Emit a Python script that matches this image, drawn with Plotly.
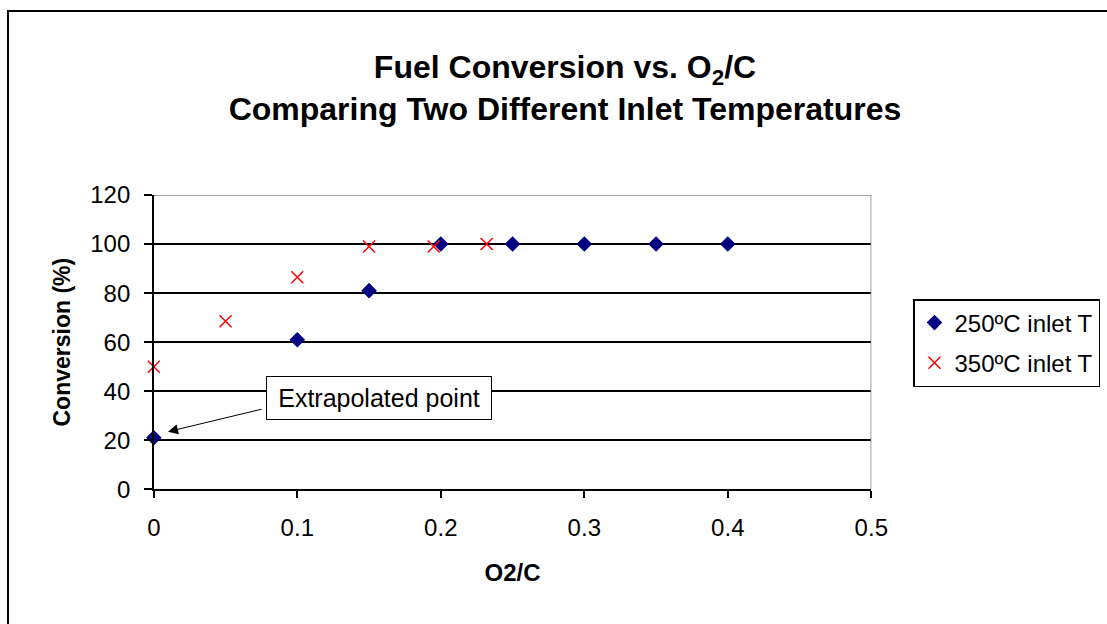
import plotly.graph_objects as go

# O2/C ratio and fuel conversion (%) for each inlet temperature
o2c_250 = [0.0, 0.1, 0.15, 0.2, 0.25, 0.3, 0.35, 0.4]
conv_250 = [21, 61, 81, 100, 100, 100, 100, 100]

o2c_350 = [0.0, 0.05, 0.1, 0.15, 0.195, 0.232]
conv_350 = [50, 68.5, 86.5, 99, 99, 100]

series_names = ["250ºC inlet T", "350ºC inlet T"]
x_ticks = [0, 0.1, 0.2, 0.3, 0.4, 0.5]
y_ticks = [0, 20, 40, 60, 80, 100, 120]

W, H = 1107, 624
FONT = "Liberation Sans, Arial, sans-serif"

# plot-area edges in pixels
L, R, T, B = 153.8, 871.3, 195.0, 489.3

fig = go.Figure()
fig.add_trace(go.Scatter(
    x=o2c_250, y=conv_250, mode="markers", name=series_names[0],
    legendgroup="a",
    marker=dict(symbol="diamond", size=12, color="#000080",
                line=dict(width=0)),
    cliponaxis=False,
))
fig.add_trace(go.Scatter(
    x=o2c_350, y=conv_350, mode="markers", name=series_names[1],
    legendgroup="b",
    marker=dict(symbol="x-thin", size=12, color="#ff0000",
                line=dict(width=1.5, color="#ff0000")),
    cliponaxis=False,
))

shapes = [
    # outer chart frame
    dict(type="rect", xref="paper", yref="paper",
         x0=8 / W, x1=1.05, y0=-0.05, y1=1 - 11 / H,
         line=dict(color="black", width=2), layer="below"),
    # plot-area frame (top and right edges)
    dict(type="line", xref="x", yref="y", x0=0, x1=0.5, y0=120, y1=120,
         line=dict(color="#808080", width=1.5), layer="above"),
    dict(type="line", xref="x", yref="y", x0=0.5, x1=0.5, y0=0, y1=120,
         line=dict(color="#808080", width=1.5), layer="above"),
]

annotations = [
    dict(text="Extrapolated point", x=0.157, y=37.3, xref="x", yref="y",
         showarrow=False, xanchor="center", yanchor="middle",
         font=dict(family=FONT, size=25, color="black"),
         bgcolor="white", bordercolor="black", borderwidth=1,
         borderpad=4, width=216, height=34),
    dict(text="", x=0.0099, y=23.5, xref="x", yref="y",
         ax=0.0761, ay=32.8, axref="x", ayref="y",
         showarrow=True, arrowhead=2, arrowsize=2, arrowwidth=1,
         arrowcolor="black", standoff=0),
]

fig.update_layout(
    width=W, height=H, autosize=False,
    margin=dict(l=0, r=0, t=0, b=0, autoexpand=False),
    paper_bgcolor="white", plot_bgcolor="white",
    font=dict(family=FONT, color="black"),
    title=dict(
        text="Fuel Conversion vs. O<sub>2</sub>/C<br>Comparing Two Different Inlet Temperatures",
        x=565 / W, xanchor="center", xref="paper",
        y=1 - 78 / H, yanchor="top", yref="container",
        font=dict(family=FONT, size=32, color="black", weight="bold"),
    ),
    xaxis=dict(
        domain=[L / W, R / W], range=[0, 0.5], tickvals=x_ticks,
        ticktext=["0", "0.1", "0.2", "0.3", "0.4", "0.5"],
        showgrid=False, zeroline=False, automargin=False,
        showline=True, linecolor="black", linewidth=1.5,
        ticks="outside", ticklen=7, tickwidth=1.5, tickcolor="black",
        tickfont=dict(family=FONT, size=24, color="black"),
        ticklabelstandoff=9,
        title=dict(text="O2/C", standoff=24,
                   font=dict(family=FONT, size=24, color="black", weight="bold")),
    ),
    yaxis=dict(
        domain=[1 - B / H, 1 - T / H], range=[0, 120], tickvals=y_ticks,
        showgrid=True, gridcolor="black", gridwidth=1.5, zeroline=False,
        automargin=False,
        showline=True, linecolor="black", linewidth=1.5,
        ticks="outside", ticklen=8, tickwidth=1.5, tickcolor="black",
        tickfont=dict(family=FONT, size=24, color="black"),
        ticklabelstandoff=9,
        title=dict(text="Conversion (%)", standoff=13,
                   font=dict(family=FONT, size=23, color="black", weight="bold")),
    ),
    legend=dict(
        x=913 / W, y=1 - 299 / H, xanchor="left", yanchor="top",
        bordercolor="black", borderwidth=1.5, bgcolor="white",
        font=dict(family=FONT, size=24, color="black"),
        tracegroupgap=6, traceorder="grouped", itemwidth=30,
    ),
    shapes=shapes,
    annotations=annotations,
)

fig.write_html("out.html")
